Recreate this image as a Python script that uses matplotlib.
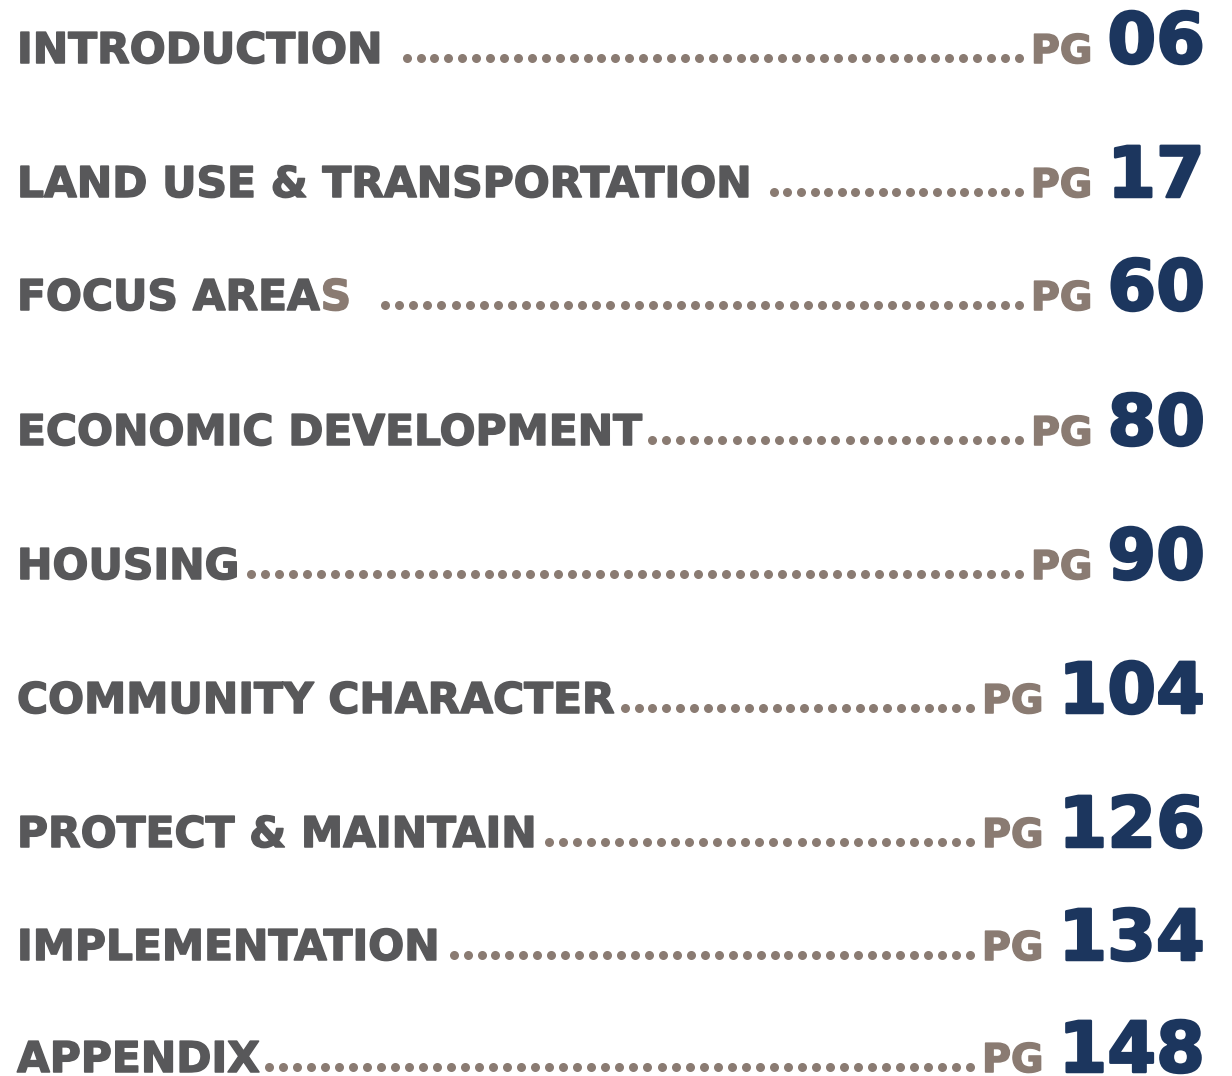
import numpy as np
import matplotlib
matplotlib.use("Agg")
from matplotlib import pyplot as plt
import matplotlib.patheffects as pe

# table of contents entries
titles = ["INTRODUCTION", "LAND USE & TRANSPORTATION", "FOCUS AREA",
          "ECONOMIC DEVELOPMENT", "HOUSING", "COMMUNITY CHARACTER",
          "PROTECT & MAINTAIN", "IMPLEMENTATION", "APPENDIX"]
title_tails = ["", "", "S", "", "", "", "", "", ""]  # last letter drawn in accent colour
pages = ["06", "17", "60", "80", "90", "104", "126", "134", "148"]

# layout (pixels)
baselines = [63, 197, 310, 445, 579, 713, 847, 960, 1072]
lead_gap = [20, 18, 30, 6, 8, 6, 8, 10, 5]

GRAY = "#58585a"
TAUPE = "#8a7b72"
NAVY = "#1c365e"
FONT = ["DejaVu Sans"]

W, H = 1232, 1076
fig = plt.figure(figsize=(W / 100, H / 100), dpi=100, facecolor="white")
ax = fig.add_axes([0, 0, 1, 1])
ax.set_xlim(0, W)
ax.set_ylim(H, 0)
ax.axis("off")

fig.canvas.draw()
renderer = fig.canvas.get_renderer()


def heavy(color, lw):
    # a thin outline in the same colour makes the bold face read heavier
    return [pe.withStroke(linewidth=lw, foreground=color)]


def extent(t):
    bb = t.get_window_extent(renderer)
    x0, _ = ax.transData.inverted().transform((bb.x0, bb.y0))
    x1, _ = ax.transData.inverted().transform((bb.x1, bb.y0))
    return x0, x1


for i, title in enumerate(titles):
    y = baselines[i]
    t = ax.text(17, y, title, color=GRAY, fontsize=30.5, fontweight="bold",
                family=FONT, va="baseline", ha="left",
                path_effects=heavy(GRAY, 1.1))
    _, tx1 = extent(t)
    if title_tails[i]:
        t2 = ax.text(tx1 + 1, y, title_tails[i], color=TAUPE, fontsize=30.5,
                     fontweight="bold", family=FONT, va="baseline", ha="left",
                     path_effects=heavy(TAUPE, 1.1))
        _, tx1 = extent(t2)

    n = ax.text(1205, y, pages[i], color=NAVY, fontsize=50.5, fontweight="bold",
                family=FONT, va="baseline", ha="right",
                path_effects=heavy(NAVY, 1.8))
    nx0, _ = extent(n)
    p = ax.text(nx0 - 15, y, "PG", color=TAUPE, fontsize=28.5, fontweight="bold",
                family=FONT, va="baseline", ha="right",
                path_effects=heavy(TAUPE, 1.1))
    px0, _ = extent(p)

    # dotted leader
    start = tx1 + lead_gap[i] + 4
    end = px0 - 12
    count = int(round((end - start) / 14.0)) + 1
    xs = np.linspace(start, end, count)
    ax.plot(xs, np.full_like(xs, y - 5), linestyle="none", marker="o",
            markersize=6.5, color=TAUPE, markeredgewidth=0)

fig.savefig("out.png", dpi=100, facecolor="white")
